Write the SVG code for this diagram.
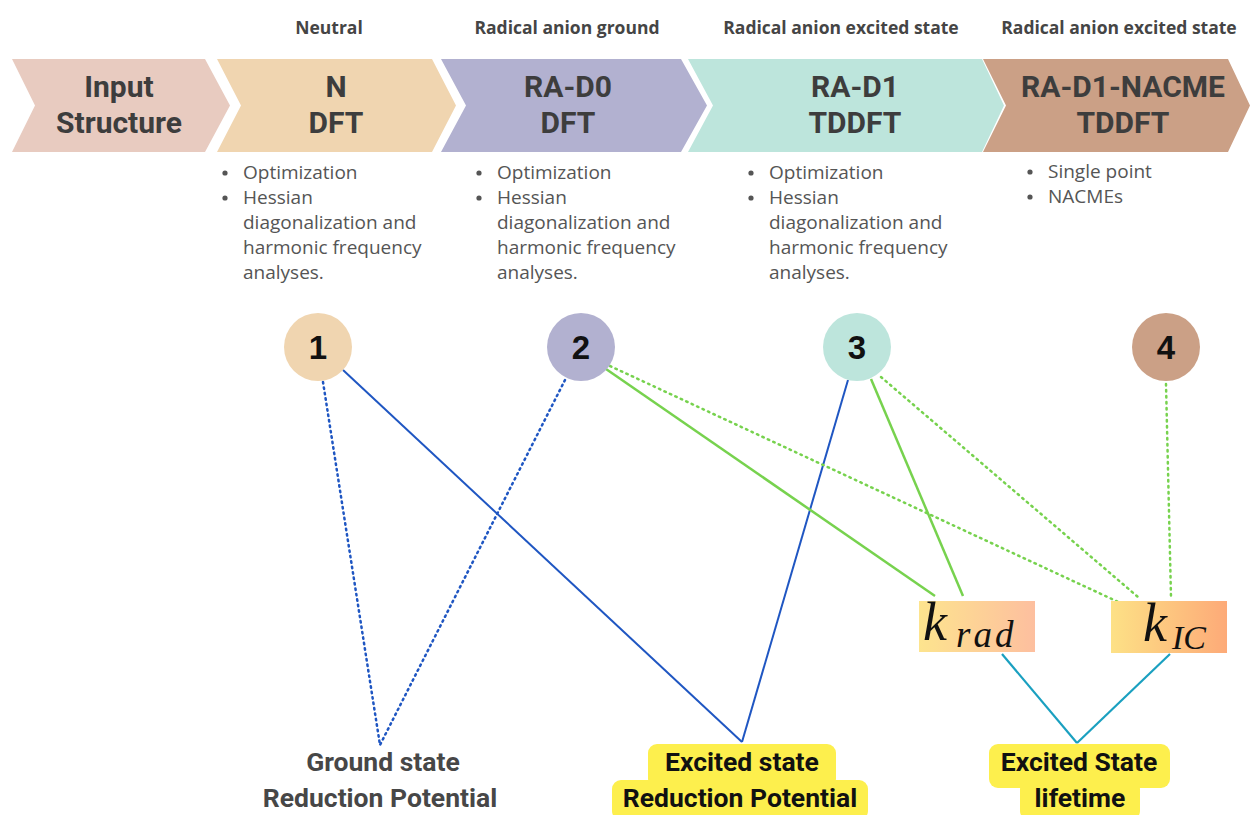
<svg xmlns="http://www.w3.org/2000/svg" width="1250" height="815" viewBox="0 0 1250 815">
<defs>
<style>
.hdr{font-family:"Open Sans","Liberation Sans",sans-serif;font-weight:bold;font-size:17.5px;fill:#454545;text-anchor:middle}
.chv{font-family:Roboto,"Liberation Sans",sans-serif;font-weight:bold;font-size:30px;fill:#3d3d3d;text-anchor:middle}
.bul{font-family:"Open Sans","Liberation Sans",sans-serif;font-size:19px;fill:#555}
.dot{fill:#555}
.num{font-family:"Liberation Sans",Arial,sans-serif;font-weight:bold;font-size:33px;fill:#111;text-anchor:middle}
.bot{font-family:Roboto,"Liberation Sans",sans-serif;font-weight:bold;font-size:26.5px;text-anchor:middle}
.math{font-family:"Liberation Serif","DejaVu Serif",serif;font-style:italic;fill:#111}
.blue{stroke:#1f56c2;stroke-width:2;fill:none}
.dotb{stroke:#1f56c2;stroke-width:2.5;stroke-dasharray:1.5 4;stroke-linecap:round;fill:none}
.green{stroke:#77d24e;stroke-width:2.5;fill:none}
.dotg{stroke:#77d24e;stroke-width:2.5;stroke-dasharray:1.5 4.5;stroke-linecap:round;fill:none}
.teal{stroke:#1aa0c0;stroke-width:2.2;fill:none}
.hl{fill:#fdef4d}
</style>
<linearGradient id="gRad" x1="0" y1="0" x2="1" y2="0">
<stop offset="0" stop-color="#fde48e"/>
<stop offset="1" stop-color="#fdbf9f"/>
</linearGradient>
<linearGradient id="gIC" x1="0" y1="0" x2="1" y2="0">
<stop offset="0" stop-color="#fde186"/>
<stop offset="1" stop-color="#fdaa78"/>
</linearGradient>
</defs>
<rect width="1250" height="815" fill="#fff"/>

<g id="headers">
<text class="hdr" x="329" y="34">Neutral</text>
<text class="hdr" x="567" y="34">Radical anion ground</text>
<text class="hdr" x="841" y="34">Radical anion excited state</text>
<text class="hdr" x="1119" y="34">Radical anion excited state</text>
</g>

<g id="step-input">
<polygon points="12,59 205,59 230,105.5 205,152 12,152 35,105.5" fill="#e8cbc0"/>
<text class="chv" x="119" y="97">Input</text>
<text class="chv" x="119" y="133">Structure</text>
</g>
<g id="step-N">
<polygon points="217,59 432,59 456,105.5 432,152 217,152 241,105.5" fill="#f0d5b0"/>
<text class="chv" x="336" y="97">N</text>
<text class="chv" x="336" y="133">DFT</text>
</g>
<g id="step-RAD0">
<polygon points="441,59 681,59 707,105.5 681,152 441,152 466,105.5" fill="#b2b1d0"/>
<text class="chv" x="568" y="97">RA-D0</text>
<text class="chv" x="568" y="133">DFT</text>
</g>
<g id="step-RAD1">
<polygon points="688,59 982,59 1004,105.5 982,152 688,152 713,105.5" fill="#bde5dc"/>
<text class="chv" x="855" y="97">RA-D1</text>
<text class="chv" x="855" y="133">TDDFT</text>
</g>
<g id="step-NACME">
<polygon points="983,59 1228,59 1250,105.5 1228,152 983,152 1006,105.5" fill="#cba086"/>
<text class="chv" x="1123" y="97">RA-D1-NACME</text>
<text class="chv" x="1123" y="133">TDDFT</text>
</g>

<g id="bullets">
<circle class="dot" cx="225" cy="173" r="2.6"/>
<circle class="dot" cx="225" cy="198" r="2.6"/>
<circle class="dot" cx="479" cy="173" r="2.6"/>
<circle class="dot" cx="479" cy="198" r="2.6"/>
<circle class="dot" cx="751" cy="173" r="2.6"/>
<circle class="dot" cx="751" cy="198" r="2.6"/>
<circle class="dot" cx="1030" cy="172" r="2.6"/>
<circle class="dot" cx="1030" cy="197" r="2.6"/>
<g class="bul">
<text x="243" y="179">Optimization</text>
<text x="243" y="204">Hessian</text>
<text x="243" y="229">diagonalization and</text>
<text x="243" y="254">harmonic frequency</text>
<text x="243" y="279">analyses.</text>

<text x="497" y="179">Optimization</text>
<text x="497" y="204">Hessian</text>
<text x="497" y="229">diagonalization and</text>
<text x="497" y="254">harmonic frequency</text>
<text x="497" y="279">analyses.</text>

<text x="769" y="179">Optimization</text>
<text x="769" y="204">Hessian</text>
<text x="769" y="229">diagonalization and</text>
<text x="769" y="254">harmonic frequency</text>
<text x="769" y="279">analyses.</text>

<text x="1048" y="178">Single point</text>
<text x="1048" y="203">NACMEs</text>
</g>
</g>

<g id="connectors">
<line class="dotb" x1="323" y1="382" x2="380" y2="745"/>
<line class="dotb" x1="565" y1="380" x2="380" y2="745"/>
<line class="blue" x1="343" y1="370" x2="742" y2="742"/>
<line class="blue" x1="848" y1="380" x2="742" y2="742"/>
<line class="green" x1="606" y1="369" x2="935" y2="596"/>
<line class="green" x1="871" y1="379" x2="963" y2="596"/>
<line class="dotg" x1="610" y1="366" x2="1142" y2="613"/>
<line class="dotg" x1="881" y1="377" x2="1138" y2="597"/>
<line class="dotg" x1="1166" y1="384" x2="1171" y2="597"/>
<line class="teal" x1="1002" y1="654" x2="1077" y2="743"/>
<line class="teal" x1="1170" y1="654" x2="1077" y2="743"/>
</g>

<g id="node-1">
<circle cx="318" cy="347" r="34" fill="#f0d5b0"/>
<text class="num" x="318" y="359">1</text>
</g>
<g id="node-2">
<circle cx="581" cy="347" r="34" fill="#b2b1d0"/>
<text class="num" x="581" y="359">2</text>
</g>
<g id="node-3">
<circle cx="857" cy="347" r="34" fill="#bde5dc"/>
<text class="num" x="857" y="359">3</text>
</g>
<g id="node-4">
<circle cx="1166" cy="347" r="34" fill="#cba086"/>
<text class="num" x="1166" y="359">4</text>
</g>

<g id="node-krad">
<rect x="919" y="601" width="116" height="51" fill="url(#gRad)"/>
<text class="math" x="923" y="640" font-size="54">k</text>
<text class="math" x="956" y="647" font-size="37" letter-spacing="3">rad</text>
</g>
<g id="node-kIC">
<rect x="1111" y="601" width="116" height="52" fill="url(#gIC)"/>
<text class="math" x="1143" y="641" font-size="54">k</text>
<text class="math" x="1172" y="649" font-size="34">IC</text>
</g>

<g id="out-ground">
<text class="bot" x="383" y="771" fill="#474747">Ground state</text>
<text class="bot" x="380" y="807" fill="#474747">Reduction Potential</text>
</g>
<g id="out-excited">
<rect class="hl" x="648" y="744" width="188" height="44" rx="9"/>
<rect class="hl" x="612" y="780" width="256" height="40" rx="9"/>
<text class="bot" x="742" y="771" fill="#111">Excited state</text>
<text class="bot" x="740" y="807" fill="#111">Reduction Potential</text>
</g>
<g id="out-lifetime">
<rect class="hl" x="989" y="744" width="181" height="44" rx="9"/>
<rect class="hl" x="1020" y="780" width="120" height="40" rx="9"/>
<text class="bot" x="1079" y="771" fill="#111">Excited State</text>
<text class="bot" x="1080" y="807" fill="#111">lifetime</text>
</g>
</svg>
